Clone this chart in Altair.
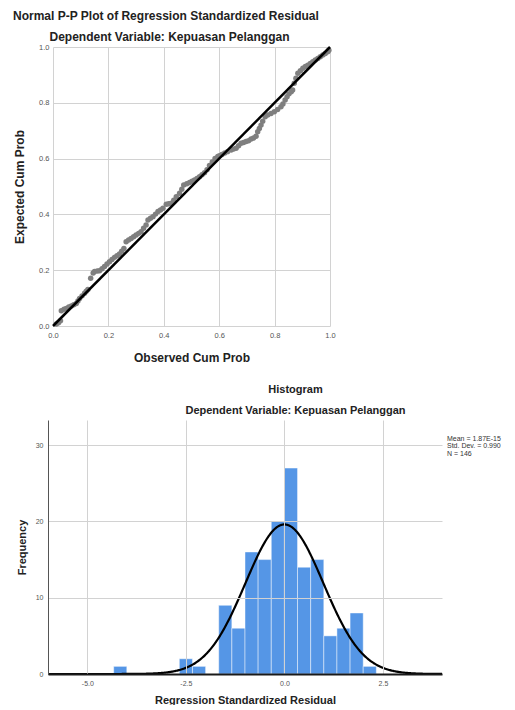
import altair as alt
import pandas as pd

# ---------------- P-P plot data ----------------
obs_cum = [0.012, 0.020, 0.027, 0.030, 0.040, 0.048, 0.057, 0.066, 0.075, 0.084,
           0.090, 0.096, 0.105, 0.114, 0.120, 0.126, 0.136, 0.145, 0.150, 0.160,
           0.168, 0.177, 0.186, 0.195, 0.204, 0.213, 0.222, 0.231, 0.240, 0.248,
           0.256, 0.264, 0.273, 0.282, 0.291, 0.300, 0.309, 0.318, 0.327, 0.336,
           0.343, 0.352, 0.361, 0.370, 0.379, 0.388, 0.397, 0.409, 0.418, 0.427,
           0.436, 0.445, 0.457, 0.465, 0.472, 0.483, 0.493, 0.502, 0.511, 0.520,
           0.529, 0.538, 0.547, 0.556, 0.565, 0.575, 0.585, 0.595, 0.601, 0.610,
           0.620, 0.630, 0.643, 0.652, 0.661, 0.670, 0.679, 0.688, 0.697, 0.706,
           0.715, 0.724, 0.733, 0.739, 0.745, 0.751, 0.757, 0.766, 0.775, 0.787,
           0.799, 0.811, 0.823, 0.830, 0.838, 0.845, 0.852, 0.860, 0.865, 0.871,
           0.877, 0.884, 0.893, 0.902, 0.911, 0.920, 0.929, 0.938, 0.947, 0.956,
           0.965, 0.974, 0.983, 0.992, 0.996]
exp_cum = [0.007, 0.012, 0.019, 0.055, 0.060, 0.063, 0.068, 0.072, 0.076, 0.081,
           0.090, 0.099, 0.108, 0.117, 0.125, 0.131, 0.171, 0.190, 0.195, 0.197,
           0.198, 0.205, 0.213, 0.222, 0.230, 0.238, 0.246, 0.252, 0.258, 0.268,
           0.278, 0.302, 0.308, 0.314, 0.320, 0.326, 0.332, 0.338, 0.350, 0.362,
           0.380, 0.386, 0.392, 0.401, 0.410, 0.416, 0.422, 0.436, 0.438, 0.440,
           0.451, 0.463, 0.476, 0.490, 0.505, 0.510, 0.514, 0.519, 0.523, 0.529,
           0.535, 0.542, 0.549, 0.560, 0.575, 0.588, 0.600, 0.608, 0.610, 0.615,
           0.620, 0.625, 0.631, 0.634, 0.637, 0.646, 0.655, 0.658, 0.661, 0.664,
           0.670, 0.674, 0.680, 0.696, 0.708, 0.720, 0.734, 0.750, 0.756, 0.762,
           0.768, 0.776, 0.786, 0.796, 0.810, 0.822, 0.832, 0.840, 0.846, 0.870,
           0.888, 0.906, 0.915, 0.924, 0.930, 0.935, 0.941, 0.947, 0.953, 0.959,
           0.965, 0.971, 0.977, 0.983, 0.988]
ref_x = [0.0, 1.0]
ref_y = [0.0, 1.0]
pp_ticks = [0.0, 0.2, 0.4, 0.6, 0.8, 1.0]

# ---------------- Histogram data ----------------
bin_lo = [-4.333, -2.667, -2.333, -1.667, -1.333, -1.0, -0.667, -0.333,
          0.0, 0.333, 0.667, 1.0, 1.333, 1.667, 2.0]
bin_count = [1, 2, 1, 9, 6, 16, 15, 20, 27, 14, 15, 5, 6, 8, 1]
bin_width = 0.3333
res_mean = 1.87e-15
res_sd = 0.990
res_n = 146
hist_xticks = [-5.0, -2.5, 0.0, 2.5]
hist_yticks = [0, 10, 20, 30]

FONT = "Liberation Sans"
DARK = "#222222"
LAB = "#555555"
GRID = "#d2d2d2"
MINUS_FIX = "replace(datum.label, '\u2212', '-')"

pp_df = pd.DataFrame({"obs": obs_cum, "exp": exp_cum})
ref_df = pd.DataFrame({"obs": ref_x, "exp": ref_y})

pp_x = alt.X("obs:Q", scale=alt.Scale(domain=[0, 1], nice=False),
             axis=alt.Axis(title="Observed Cum Prob", values=pp_ticks, format=".1f",
                           labelFontSize=7.5, labelColor=LAB, labelPadding=5,
                           labelFlush=False,
                           ticks=False, tickSize=0, domain=False, grid=True,
                           gridColor=GRID, titleFontSize=12, titleFontWeight="bold",
                           titleColor=DARK, titlePadding=13, minExtent=13, maxExtent=13))
pp_y = alt.Y("exp:Q", scale=alt.Scale(domain=[0, 1], nice=False),
             axis=alt.Axis(title="Expected Cum Prob", values=pp_ticks, format=".1f",
                           labelFontSize=7.5, labelColor=LAB, labelPadding=4,
                           labelFlush=False,
                           ticks=False, tickSize=0, domain=False, grid=True,
                           gridColor=GRID, titleFontSize=12, titleFontWeight="bold",
                           titleColor=DARK, titlePadding=12, minExtent=15, maxExtent=15))

pp_points = alt.Chart(pp_df).mark_circle(size=30, color="#7f7f7f", opacity=1).encode(x=pp_x, y=pp_y)
pp_line = alt.Chart(ref_df).mark_line(color="#000000", strokeWidth=2.5).encode(x="obs:Q", y="exp:Q")

pp = alt.layer(pp_points, pp_line).properties(
    width=277, height=279,
    title=alt.TitleParams("Dependent Variable: Kepuasan Pelanggan", fontSize=12,
                          fontWeight="bold", color=DARK, anchor="middle", dx=-22, offset=-2),
)

# ---------------- Histogram ----------------
hist_df = pd.DataFrame({"lo": bin_lo, "count": bin_count})

hx = alt.X("lo:Q", scale=alt.Scale(domain=[-6, 4], range=[-5, 389], nice=False, zero=False),
           axis=alt.Axis(title="Regression Standardized Residual", values=hist_xticks,
                         format=".1f", labelExpr=MINUS_FIX, labelFontSize=7, labelColor=LAB,
                         labelPadding=5, labelFlush=False, ticks=False, tickSize=0,
                         domain=True, domainColor="#1a1a1a", domainWidth=2, grid=True,
                         gridColor=GRID, titleFontSize=11, titleFontWeight="bold",
                         titleColor=DARK, titlePadding=8, minExtent=12, maxExtent=12,
                         zindex=1))
hy = alt.Y("count:Q", scale=alt.Scale(domain=[0, 33.3], nice=False),
           axis=alt.Axis(title="Frequency", values=hist_yticks, labelFontSize=7,
                         labelColor=LAB, labelPadding=5, labelFlush=False, ticks=False,
                         tickSize=0, domain=True, domainColor="#555555", domainWidth=1,
                         grid=True, gridColor=GRID, titleFontSize=11, offset=5,
                         titleFontWeight="bold", titleColor=DARK, titlePadding=9,
                         minExtent=12, maxExtent=12, zindex=1))

bars = alt.Chart(hist_df).transform_calculate(
    hi=f"datum.lo + {bin_width}"
).mark_bar(color="#5596e6", stroke="#ffffff", strokeOpacity=0.45, strokeWidth=1).encode(
    x=hx, x2="hi:Q", y=hy, y2=alt.datum(0)
)

curve = alt.Chart(alt.sequence(-6, 4.001, 0.02, as_="z")).transform_calculate(
    dens=f"{res_n} * {bin_width} * exp(-0.5 * pow((datum.z - {res_mean}) / {res_sd}, 2)) / ({res_sd} * sqrt(2 * PI))"
).mark_line(color="#000000", strokeWidth=2.2).encode(
    x=alt.X("z:Q"), y=alt.Y("dens:Q")
)

stats_lines = [f"Mean = {res_mean:.2E}".replace("E-0", "E-"),
               f"Std. Dev. = {res_sd:.3f}",
               f"N = {res_n}"]
legend_txt = alt.Chart(pd.DataFrame({"k": [0]})).mark_text(
    text=stats_lines, align="left", baseline="top", fontSize=7, lineHeight=7.3,
    color="#333333", font=FONT
).encode(x=alt.value(394), y=alt.value(15))

hist = alt.layer(bars, curve, legend_txt).properties(
    width=389, height=254,
    title=alt.TitleParams("Histogram", subtitle="Dependent Variable: Kepuasan Pelanggan",
                          fontSize=11, fontWeight="bold", color=DARK,
                          subtitleFontSize=11, subtitleFontWeight="bold",
                          subtitleColor=DARK, subtitlePadding=10, subtitleFont=FONT,
                          anchor="middle", dx=48, offset=4),
)

chart = alt.ConcatChart(concat=[pp, hist], columns=1, spacing=21, align="none").properties(
    title=alt.TitleParams("Normal P-P Plot of Regression Standardized Residual",
                          anchor="start", fontSize=12, fontWeight="bold", color=DARK,
                          offset=8),
    padding={"left": 5, "right": 2, "top": 2, "bottom": 0},
).configure(font=FONT).configure_view(stroke=None)

chart.save("out.html", embed_options={"renderer": "svg", "actions": False})
